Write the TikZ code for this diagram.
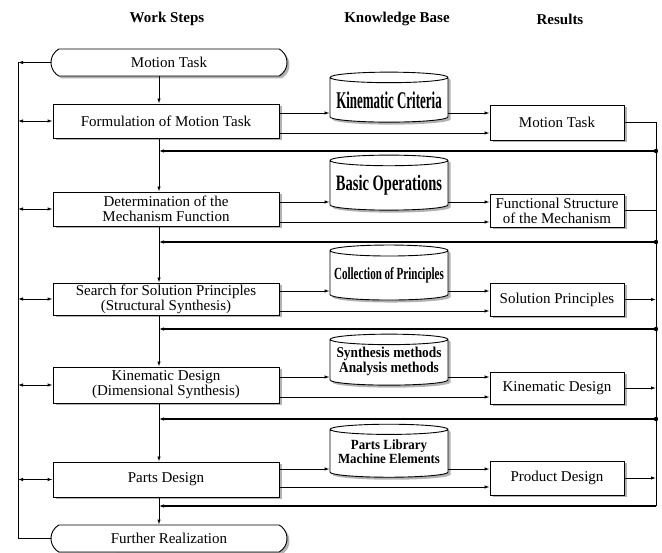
\documentclass[tikz,border=0pt]{standalone}
\usepackage{fontspec}
\setmainfont{Liberation Serif}
\usetikzlibrary{shapes.geometric,shapes.misc,arrows.meta,shadows}
\newcommand{\squeeze}[3]{\scalebox{#1}[1]{\fontsize{#2}{#2}\selectfont\bfseries #3}}

\begin{document}
\begin{tikzpicture}[
    x=1pt, y=-1pt, line width=0.9pt,
    shadowed/.style={drop shadow={shadow xshift=2.5pt, shadow yshift=-2.5pt, fill=black!60}},
    terminal/.style={rounded rectangle, rounded rectangle arc length=120, draw, fill=white, shadowed,
        minimum width=236pt, minimum height=27pt, inner sep=0pt, font=\fontsize{15}{15}\selectfont},
    stepbox/.style={rectangle, draw, fill=white, shadowed, minimum width=226pt, inner sep=0pt,
        align=center, font=\fontsize{15}{15}\selectfont},
    kbase/.style={cylinder, shape border rotate=90, aspect=0.1, draw, fill=white, shadowed,
        minimum width=118pt, inner sep=0pt, align=center},
    resbox/.style={rectangle, draw, fill=white, shadowed, minimum width=134pt, inner sep=0pt,
        align=center, font=\fontsize{15}{15}\selectfont},
    header/.style={font=\fontsize{15}{15}\selectfont\bfseries},
    arr/.style={-{Latex[length=5pt,width=3.5pt]}},
    dbl/.style={{Latex[length=5pt,width=3.5pt]}-{Latex[length=5pt,width=3.5pt]}},
    feed/.style={arr, line width=1.3pt}
]
    \useasboundingbox (0,0) rectangle (662,553);

    \node[header] (hws) at (167,19) {Work Steps};
    \node[header] (hkb) at (397,19) {Knowledge Base};
    \node[header] (hre) at (560,19) {Results};

    \node[terminal] (ms) at (169,62.5) {Motion Task};
    \node[stepbox, minimum height=34pt] (form) at (166,121) {Formulation of Motion Task};
    \node[stepbox, minimum height=34pt] (det) at (166,209) {Determination of the\\Mechanism Function};
    \node[stepbox, minimum height=32pt] (search) at (166,299) {Search for Solution Principles\\(Structural Synthesis)};
    \node[stepbox, minimum height=36pt] (kin) at (166,385) {Kinematic Design\\(Dimensional Synthesis)};
    \node[stepbox, minimum height=35pt] (parts) at (166,479.5) {Parts Design};
    \node[terminal] (fr) at (169,538.5) {Further Realization};

    \node[kbase, minimum height=50pt] (kc) at (389,100) {\squeeze{0.54}{24}{Kinematic Criteria}};
    \node[kbase, minimum height=55pt] (bo) at (389,185.5) {\squeeze{0.66}{22}{Basic Operations}};
    \node[kbase, minimum height=55pt] (cp) at (389,275.5) {\squeeze{0.65}{17}{Collection of Principles}};
    \node[kbase, minimum height=51pt] (sm) at (389,362.5) {\squeeze{0.89}{15}{\begin{tabular}{@{}c@{}}Synthesis methods\\Analysis methods\end{tabular}}};
    \node[kbase, minimum height=53pt] (pl) at (389,453.5) {\squeeze{0.92}{14}{\begin{tabular}{@{}c@{}}Parts Library\\Machine Elements\end{tabular}}};

    \node[resbox, minimum height=35pt] (rmt) at (557,122.5) {Motion Task};
    \node[resbox, minimum height=33pt] (rfs) at (557,210.5) {Functional Structure\\of the Mechanism};
    \node[resbox, minimum height=33pt] (rsp) at (557,299.5) {Solution Principles};
    \node[resbox, minimum height=32pt] (rkd) at (557,388) {Kinematic Design};
    \node[resbox, minimum height=34pt] (rpd) at (557,478) {Product Design};

    \coordinate (flow) at (159,0);
    \coordinate (lb) at (18,0);
    \coordinate (rb) at (656,0);
    \coordinate (fb1) at (656,151);
    \coordinate (fb2) at (656,242);
    \coordinate (fb3) at (656,329);
    \coordinate (fb4) at (656,419);
    \coordinate (fb5) at (656,506);

    \foreach \a/\b in {ms/form,form/det,det/search,search/kin,kin/parts,parts/fr}
        \draw[arr] (\a.south -| flow) -- (\b.north -| flow);

    \draw[arr] (ms.west) -- (ms.west -| lb);
    \draw (ms.west -| lb) |- (fr.west);
    \foreach \n in {form,det,search,kin,parts}
        \draw[dbl] (\n.west -| lb) -- (\n.west);

    \foreach \n/\k/\r/\u/\l in {form/kc/rmt/8/-12,det/bo/rfs/7/-13,search/cp/rsp/8/-12,kin/sm/rkd/8/-12,parts/pl/rpd/10.5/-7.5}{
        \draw[arr] ([yshift=\u pt]\n.east) -- ([yshift=\u pt]\n.east -| \k.west);
        \draw[arr] ([yshift=\u pt]\n.east -| \k.east) -- ([yshift=\u pt]\n.east -| \r.west);
        \draw[arr] ([yshift=\l pt]\n.east) -- ([yshift=\l pt]\n.east -| \r.west);
    }

    \draw (rmt.east) -- (rmt.east -| rb) -- (fb5);
    \draw (rfs.east) -- (rfs.east -| rb);
    \foreach \r in {rsp,rkd,rpd}
        \draw[arr] (\r.east) -- (\r.east -| rb);

    \foreach \i in {1,...,5}
        \draw[feed] (fb\i) -- (fb\i -| flow);
    \foreach \i in {1,...,4}
        \fill (fb\i) circle (2.2pt);
\end{tikzpicture}
\end{document}
